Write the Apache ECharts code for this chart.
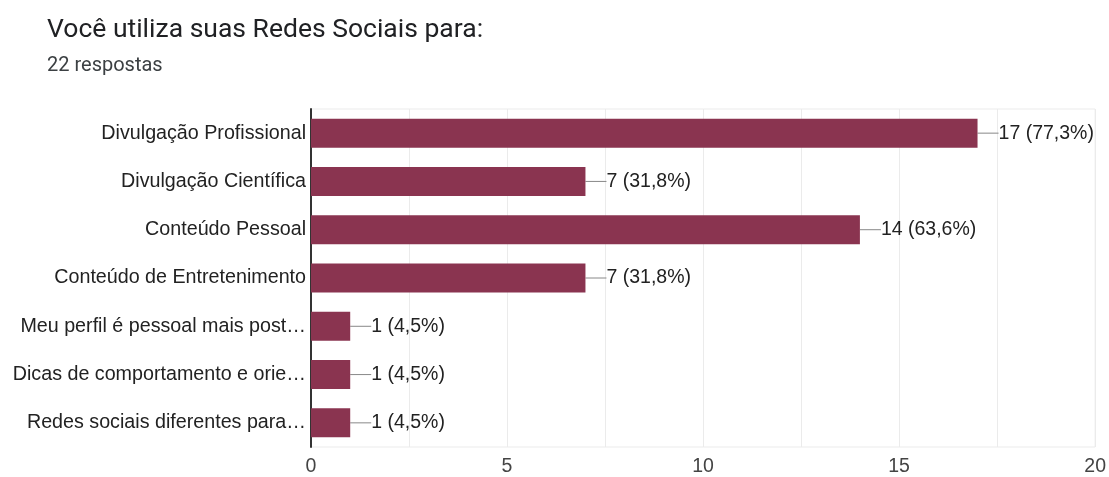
<!DOCTYPE html>
<html>
<head>
<meta charset="utf-8">
<script src="https://cdn.jsdelivr.net/npm/echarts@6/dist/echarts.min.js"></script>
<style>
  html, body { margin: 0; padding: 0; background: #fff; }
  #chart { width: 1109px; height: 477px; }
</style>
</head>
<body>
<div id="chart"></div>
<script>
// Survey: what respondents use their social networks for
const titleText = 'Você utiliza suas Redes Sociais para:';
const subtitleText = '22 respostas';
const totalResponses = 22;

const categories = [
  'Divulgação Profissional',
  'Divulgação Científica',
  'Conteúdo Pessoal',
  'Conteúdo de Entretenimento',
  'Meu perfil é pessoal mais post…',
  'Dicas de comportamento e orie…',
  'Redes sociais diferentes para…'
];
const counts = [17, 7, 14, 7, 1, 1, 1];
const xTicks = [0, 5, 10, 15, 20];

const HEAD_FONT = 'Roboto, "Noto Sans", sans-serif';
const AXIS_FONT = '"Liberation Sans", Arial, sans-serif';

function pct(v) {
  return (v / totalResponses * 100).toFixed(1).replace('.', ',');
}

const chart = echarts.init(document.getElementById('chart'), null, { renderer: 'canvas' });

chart.setOption({
  animation: false,
  backgroundColor: '#ffffff',
  textStyle: { fontFamily: AXIS_FONT },
  title: {
    text: titleText,
    subtext: subtitleText,
    left: 42,
    top: 12,
    itemGap: 12,
    textStyle: { fontFamily: HEAD_FONT, fontSize: 26.5, fontWeight: 'normal', color: '#202124' },
    subtextStyle: { fontFamily: HEAD_FONT, fontSize: 20, color: '#3c4043' }
  },
  grid: {
    left: 311,
    right: 13,
    top: 109,
    bottom: 30,
    show: true,
    borderColor: '#ebebeb',
    borderWidth: 1
  },
  xAxis: {
    type: 'value',
    min: 0,
    max: 20,
    interval: 2.5,
    axisLine: { show: false },
    axisTick: { show: false },
    splitLine: { show: true, lineStyle: { color: '#ebebeb', width: 1 } },
    axisLabel: {
      fontFamily: AXIS_FONT,
      fontSize: 19.5,
      color: '#444444',
      margin: 10,
      formatter: v => (xTicks.indexOf(v) >= 0 ? String(v) : '')
    }
  },
  yAxis: {
    type: 'category',
    inverse: true,
    data: categories,
    axisLine: { show: true, lineStyle: { color: '#333333', width: 2 } },
    axisTick: { show: false },
    axisLabel: {
      fontFamily: AXIS_FONT,
      fontSize: 19.7,
      color: '#222222',
      margin: 5
    }
  },
  series: [{
    type: 'bar',
    data: counts,
    barWidth: 29,
    itemStyle: { color: '#8a3450' },
    label: {
      show: true,
      position: 'right',
      distance: 0,
      fontFamily: AXIS_FONT,
      fontSize: 19.5,
      color: '#222222',
      formatter: p => p.value + ' (' + pct(p.value) + '%)'
    },
    labelLayout: { dx: 21 },
    labelLine: {
      show: true,
      lineStyle: { color: '#888888', width: 1 }
    }
  }]
});
</script>
</body>
</html>
